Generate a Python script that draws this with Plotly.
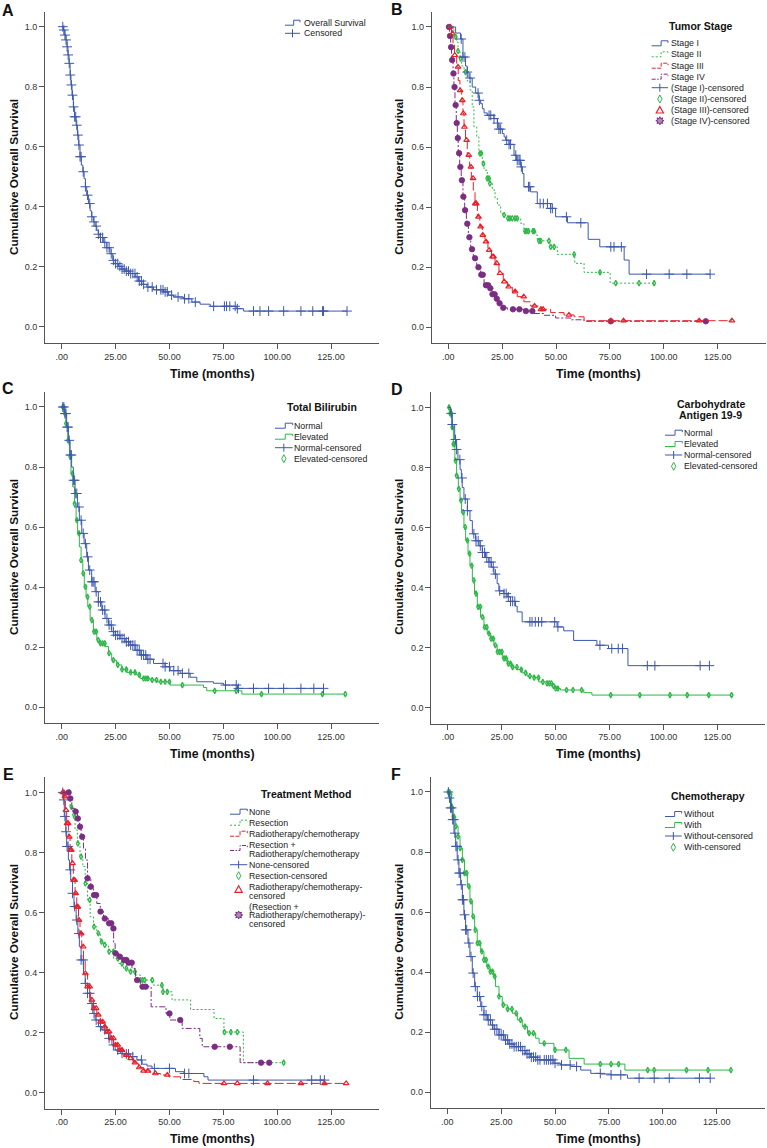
import math
import plotly.graph_objects as go

W, H = 767, 1148
FONT = "Liberation Sans, Arial, sans-serif"
BLUE = "#3E58AC"
GREEN = "#2EB848"
RED = "#E8202A"
PURPLE = "#7B2D83"

X_TICKS = [0, 25, 50, 75, 100, 125]
X_TICKTEXT = [".00", "25.00", "50.00", "75.00", "100.00", "125.00"]
Y_TICKS = [0.0, 0.2, 0.4, 0.6, 0.8, 1.0]
Y_TICKTEXT = ["0.0", "0.2", "0.4", "0.6", "0.8", "1.0"]

# ---------------- Panel A : overall survival ----------------
A_t = [0.8, 1.5, 2.0, 2.5, 2.9, 3.4, 3.9, 4.3, 4.8, 5.4, 6.0, 6.7, 7.3, 7.9, 8.5, 9.1, 9.8, 10.4, 11.0, 11.6,
       12.4, 13.2, 13.9, 14.7, 15.5, 16.3, 17.0, 17.8, 19.3, 20.9, 22.4, 23.7, 24.8, 26.3, 27.9, 29.4, 31.7,
       34.1, 35.6, 37.2, 39.5, 42.6, 47.2, 49.5, 51.9, 56.5, 60.4, 64.2, 68.9, 81.3, 84.4]
A_s = [0.989, 0.972, 0.956, 0.933, 0.906, 0.878, 0.839, 0.806, 0.772, 0.733, 0.70, 0.672, 0.639, 0.606, 0.567,
       0.539, 0.517, 0.494, 0.467, 0.439, 0.411, 0.387, 0.367, 0.35, 0.336, 0.322, 0.309, 0.298, 0.282, 0.264,
       0.244, 0.222, 0.211, 0.202, 0.193, 0.186, 0.178, 0.167, 0.153, 0.142, 0.133, 0.124, 0.117, 0.106, 0.10,
       0.094, 0.083, 0.076, 0.069, 0.061, 0.053]
A_end = 132.4
A_c = [0.5, 1, 1.5, 2, 2.5, 3, 3.5, 4, 4.5, 5, 5.5, 6, 6.5, 7, 7.5, 8, 8.5, 9, 10, 11, 12, 13, 14, 15, 16, 17, 18,
       19, 20, 21, 22, 23, 24, 25, 26, 27, 28, 29, 30, 31, 32, 33, 34, 35, 36, 37, 38, 40, 42, 44, 46, 47, 48, 49,
       51, 54, 57, 59, 62, 70.5, 75.5, 76.5, 78, 80.5, 81.5, 89, 92, 96, 103, 111, 116.5, 121, 121.5, 132.4]

# ---------------- Panel B : tumor stage ----------------
B_I_t = [3.4, 5.7, 6.8, 8.0, 8.8, 9.6, 11.1, 12.7, 14.2, 15.0, 15.8, 16.6, 18.1, 21.2, 22.8, 23.5, 25.1, 25.9,
         26.6, 28.2, 30.5, 31.7, 33.6, 34.4, 35.1, 38.2, 41.3, 47.5, 49.8, 55.3, 64.9, 70.3, 81.6, 83.9]
B_I_s = [0.98, 0.96, 0.90, 0.87, 0.85, 0.83, 0.80, 0.78, 0.756, 0.745, 0.728, 0.714, 0.706, 0.695, 0.68, 0.66,
         0.645, 0.634, 0.623, 0.609, 0.573, 0.556, 0.534, 0.512, 0.468, 0.451, 0.412, 0.396, 0.368, 0.348, 0.293,
         0.268, 0.224, 0.177]
B_I_end = 121.5
B_I_c = [6.0, 6.8, 7.7, 8.8, 10.1, 13.8, 14.4, 18.9, 19.7, 21.2, 22.8, 23.5, 24.3, 27.1, 28.2, 28.9, 31.3, 32.0,
         32.8, 33.3, 33.9, 37.2, 37.8, 42.6, 44.1, 46.0, 47.5, 48.3, 54.8, 61.5, 75.4, 76.9, 80.3, 92.0, 102.5,
         110.7, 121.5]

B_II_t = [2.6, 3.9, 4.5, 5.4, 6.2, 7.3, 8.8, 10.1, 11.1, 11.9, 13.2, 14.2, 15.8, 16.6, 18.1, 19.3, 20.4, 21.7,
          22.8, 24.3, 25.1, 27.7, 33.6, 35.1, 40.6, 41.3, 47.1, 50.6, 58.7, 63.0, 75.1]
B_II_s = [0.967, 0.95, 0.92, 0.895, 0.87, 0.85, 0.82, 0.79, 0.734, 0.667, 0.634, 0.579, 0.545, 0.523, 0.496,
          0.479, 0.457, 0.429, 0.407, 0.379, 0.374, 0.363, 0.346, 0.32, 0.307, 0.288, 0.268, 0.243, 0.213, 0.183,
          0.147]
B_II_end = 95.5
B_II_c = [3.4, 4.5, 5.7, 8.0, 14.7, 15.3, 16.3, 18.1, 18.9, 19.3, 25.9, 27.7, 28.6, 29.7, 31.0, 32.0, 35.6, 36.4,
          37.2, 39.3, 39.8, 42.1, 42.9, 46.7, 47.5, 49.1, 58.4, 70.4, 77.7, 88.5, 95.5]

B_III_t = [1.5, 2.2, 2.9, 3.9, 4.6, 5.4, 6.2, 6.8, 7.3, 8.0, 8.8, 9.9, 10.7, 11.6, 12.4, 13.5, 14.6, 15.8, 17.0,
           18.4, 20.0, 21.7, 23.5, 25.5, 27.4, 29.7, 32.0, 35.1, 38.2, 42.9, 47.5, 53.7, 58.4, 63.0]
B_III_s = [0.978, 0.945, 0.906, 0.867, 0.822, 0.789, 0.756, 0.712, 0.667, 0.623, 0.573, 0.534, 0.496, 0.457,
           0.412, 0.368, 0.335, 0.307, 0.285, 0.257, 0.235, 0.213, 0.18, 0.152, 0.135, 0.119, 0.102, 0.085, 0.071,
           0.06, 0.049, 0.041, 0.035, 0.022]
B_III_end = 131.6
B_III_c = [1.0, 2.0, 3.0, 4.5, 5.5, 6.5, 7.0, 7.5, 8.5, 9.5, 10.5, 11.5, 12.5, 13.0, 14.0, 15.0, 16.0, 17.5, 19.0,
           20.5, 21.0, 22.5, 24.0, 26.0, 28.0, 31.0, 35.0, 40.0, 43.0, 44.0, 56.0, 75.4, 81.3, 116.4, 131.6]

B_IV_t = [0.6, 1.1, 1.5, 2.2, 2.6, 3.1, 3.7, 4.2, 4.6, 5.3, 6.0, 6.8, 7.6, 8.4, 9.3, 10.4, 11.6, 13.2, 15.0, 16.6,
          18.9, 20.4, 22.0, 23.5, 25.1, 27.4, 35.1, 39.8, 44.4, 49.8, 56.8, 63.0]
B_IV_s = [0.97, 0.933, 0.89, 0.845, 0.80, 0.74, 0.68, 0.63, 0.58, 0.534, 0.49, 0.435, 0.39, 0.345, 0.30, 0.26,
          0.23, 0.20, 0.175, 0.14, 0.13, 0.11, 0.095, 0.08, 0.065, 0.06, 0.054, 0.046, 0.04, 0.031, 0.025, 0.02]
B_IV_end = 119.5
B_IV_c = [0.3, 0.8, 1.3, 1.8, 2.4, 2.9, 3.4, 3.9, 4.4, 5.0, 5.6, 6.3, 7.0, 7.8, 8.8, 9.8, 11.0, 12.4, 14.0, 15.3,
          16.0, 17.5, 18.5, 19.5, 20.5, 21.5, 22.5, 23.8, 25.5, 30.0, 33.0, 36.0, 39.0, 75.4, 119.5]

# ---------------- Panel C : total bilirubin ----------------
C_N_t = [1.5, 2.3, 3.1, 3.9, 4.6, 5.4, 6.2, 7.3, 8.2, 9.3, 10.4, 11.6, 12.4, 13.9, 15.5, 17.0, 18.6, 20.1, 21.7,
         23.2, 24.8, 27.1, 29.4, 31.7, 34.1, 36.4, 39.5, 42.6, 48.0, 50.3, 55.0, 59.6, 62.7, 70.4, 75.1, 81.6]
C_N_s = [0.978, 0.933, 0.889, 0.84, 0.80, 0.756, 0.712, 0.667, 0.623, 0.579, 0.545, 0.501, 0.457, 0.418, 0.385,
         0.351, 0.324, 0.296, 0.274, 0.252, 0.24, 0.229, 0.218, 0.207, 0.19, 0.174, 0.16, 0.146, 0.135, 0.122,
         0.113, 0.10, 0.085, 0.08, 0.074, 0.063]
C_N_end = 121.5
C_N_c = [0.5, 1, 1.5, 2, 2.5, 3, 3.5, 4, 4.5, 5.5, 6, 6.5, 7, 8, 9, 10, 11, 12, 13, 14, 14.5, 15, 16, 17, 18, 19,
         20, 21, 22, 23, 24, 25, 26, 27, 28, 29, 30, 31, 32, 33, 34, 35, 36, 37, 38, 39, 40, 41, 47, 48, 50, 52,
         54, 56, 59, 76, 81, 82, 89, 96, 103, 111, 117, 121.5]

C_E_t = [1.1, 1.9, 2.8, 3.6, 4.3, 5.1, 5.9, 6.7, 7.4, 8.2, 9.0, 9.8, 10.5, 11.3, 12.1, 13.2, 14.7, 16.3, 17.8,
         20.1, 21.7, 23.2, 25.5, 27.9, 30.2, 34.8, 36.4, 41.0, 44.1, 50.3, 65.8, 67.3, 83.6]
C_E_s = [0.978, 0.945, 0.889, 0.834, 0.778, 0.734, 0.678, 0.623, 0.579, 0.534, 0.49, 0.446, 0.401, 0.368, 0.335,
         0.29, 0.252, 0.224, 0.213, 0.202, 0.18, 0.157, 0.141, 0.126, 0.116, 0.108, 0.096, 0.091, 0.085, 0.074,
         0.066, 0.055, 0.044]
C_E_end = 131.6
C_E_c = [0.5, 1, 1.5, 2, 3, 4, 5, 6, 7, 8, 9, 10, 11, 12, 13, 14, 15, 16, 17, 18, 19, 20, 22, 24, 26, 28, 30, 32,
         34, 36, 38, 39, 40, 42, 44, 46, 48, 50, 56, 71, 81, 92.7, 121, 131.6]

# ---------------- Panel D : CA 19-9 ----------------
D_N_t = [1.2, 2.0, 3.1, 4.0, 4.6, 5.6, 6.2, 6.6, 7.4, 9.0, 10.2, 11.3, 12.8, 14.4, 15.9, 17.4, 19.0, 20.1, 21.3,
         22.8, 23.6, 25.9, 27.5, 29.0, 31.3, 32.1, 34.4, 50.6, 53.7, 58.3, 69.1, 74.5, 83.5]
D_N_s = [0.98, 0.943, 0.893, 0.86, 0.826, 0.793, 0.765, 0.733, 0.695, 0.656, 0.623, 0.579, 0.556, 0.539, 0.517,
         0.50, 0.485, 0.468, 0.445, 0.413, 0.389, 0.38, 0.369, 0.354, 0.338, 0.319, 0.286, 0.269, 0.256, 0.224,
         0.208, 0.197, 0.14]
D_N_end = 121.3
D_N_c = [1.5, 2.0, 3.5, 4.0, 5.5, 6.5, 8.0, 9.0, 12.0, 13.0, 14.0, 15.0, 16.0, 17.0, 18.0, 19.0, 20.0, 21.0, 22.0,
         24.0, 26.0, 27.0, 28.0, 29.0, 30.0, 31.0, 38.0, 39.0, 40.5, 42.0, 43.5, 49.5, 51.0, 70.5, 76.0, 79.0,
         81.0, 92.5, 96.0, 117.0, 121.3]

D_E_t = [0.9, 1.7, 2.5, 3.2, 4.0, 4.8, 5.6, 6.3, 7.4, 8.2, 9.3, 10.2, 11.3, 12.3, 13.6, 15.1, 16.7, 18.2, 19.8,
         21.3, 22.8, 25.2, 27.5, 29.8, 32.1, 34.4, 36.7, 39.8, 42.1, 46.0, 48.3, 49.8, 52.2, 63.0, 66.8]
D_E_s = [0.98, 0.934, 0.878, 0.823, 0.773, 0.729, 0.69, 0.651, 0.601, 0.557, 0.513, 0.473, 0.424, 0.38, 0.336,
         0.302, 0.268, 0.247, 0.23, 0.208, 0.186, 0.164, 0.147, 0.135, 0.127, 0.116, 0.105, 0.10, 0.086, 0.081,
         0.072, 0.064, 0.059, 0.05, 0.042]
D_E_end = 131.6
D_E_c = [0.5, 1, 1.5, 2, 2.5, 3, 3.5, 4, 5, 6, 7, 8, 9, 10, 11, 12, 13, 14, 15, 16, 17, 18, 19, 20, 21, 22, 23,
         24, 25, 26, 27, 28, 29, 30, 32, 34, 36, 38, 40, 42, 44, 46, 47, 48, 49, 50, 51, 55, 58, 62, 75.5, 89,
         103, 111, 121, 131.6]

# ---------------- Panel E : treatment method ----------------
E_N_t = [0.8, 1.2, 1.9, 2.3, 3.1, 3.6, 4.2, 5.0, 5.7, 6.7, 7.5, 8.2, 9.0, 10.1, 10.9, 12.0, 13.2, 14.4, 15.5,
         17.1, 18.6, 20.2, 21.7, 23.3, 24.8, 27.2, 29.5, 31.8, 34.9, 37.3, 39.6, 41.9, 52.8, 56.7, 66.0, 67.9]
E_N_s = [0.975, 0.92, 0.869, 0.82, 0.775, 0.742, 0.708, 0.664, 0.62, 0.575, 0.53, 0.486, 0.442, 0.397, 0.364,
         0.331, 0.297, 0.264, 0.242, 0.22, 0.209, 0.198, 0.181, 0.159, 0.142, 0.131, 0.129, 0.12, 0.109, 0.095,
         0.089, 0.081, 0.07, 0.064, 0.053, 0.042]
E_N_end = 121.9
E_N_c = [0.5, 1, 1.5, 2, 2.5, 3, 4, 5, 6, 7, 8, 9, 10, 11, 12, 13, 14, 15, 16, 18, 20, 22, 24, 26, 28, 30, 31,
         33, 37, 43, 50, 57, 59, 89, 116, 120, 121.9]

E_R_t = [3.9, 5.0, 6.2, 7.3, 8.5, 9.8, 10.9, 12.0, 13.2, 14.8, 16.3, 17.9, 19.4, 21.7, 24.1, 26.4, 28.7, 31.1,
         34.2, 36.5, 42.7, 47.0, 51.2, 59.8, 70.7, 75.3, 84.3]
E_R_s = [0.952, 0.919, 0.875, 0.83, 0.786, 0.753, 0.697, 0.642, 0.586, 0.553, 0.531, 0.503, 0.492, 0.47, 0.447,
         0.43, 0.414, 0.403, 0.392, 0.375, 0.358, 0.336, 0.309, 0.277, 0.247, 0.202, 0.10]
E_R_end = 103.0
E_R_c = [3.5, 4.5, 6, 7.5, 9, 11, 13, 15, 17, 18.5, 20, 22, 24, 26, 28, 30, 32, 34, 36.5, 37.5, 38.5, 42, 46.5,
         47, 49, 75.5, 78.5, 81.5, 103]

E_RC_t = [1.2, 1.7, 2.3, 3.1, 3.9, 4.7, 5.4, 6.2, 7.0, 7.8, 8.5, 9.3, 10.1, 10.9, 12.0, 13.2, 14.8, 16.3, 17.9,
          19.4, 21.0, 22.5, 24.1, 26.4, 28.7, 31.1, 33.4, 35.7, 38.0, 41.1, 45.8, 49.7, 55.1, 61.3, 63.7]
E_RC_s = [0.986, 0.941, 0.897, 0.852, 0.808, 0.764, 0.708, 0.664, 0.619, 0.575, 0.53, 0.486, 0.442, 0.397,
          0.353, 0.309, 0.281, 0.259, 0.236, 0.22, 0.203, 0.181, 0.159, 0.142, 0.125, 0.114, 0.10, 0.084, 0.073,
          0.064, 0.059, 0.053, 0.044, 0.037, 0.031]
E_RC_end = 132.0
E_RC_c = [0.5, 1, 1.5, 2, 2.5, 3, 3.5, 4, 4.5, 5, 5.5, 6, 6.5, 7, 7.5, 8, 9, 10, 11, 12, 13, 14, 15, 16, 17, 18,
          19, 20, 21, 22, 23, 24, 25, 26, 27, 28, 30, 32, 34, 36, 38, 40, 43.5, 49, 75.3, 81.5, 95.5, 111, 121.9,
          132.0]

E_RR_t = [3.9, 4.7, 6.2, 7.3, 8.2, 9.0, 10.1, 11.0, 12.0, 13.5, 14.8, 16.3, 17.9, 19.4, 21.7, 23.3, 24.1, 24.8,
          26.4, 28.0, 30.3, 32.6, 34.2, 36.5, 41.5, 48.4, 50.2, 55.9, 64.1, 65.2, 82.8]
E_RR_s = [0.98, 0.947, 0.936, 0.913, 0.886, 0.852, 0.814, 0.775, 0.714, 0.686, 0.658, 0.63, 0.603, 0.58, 0.564,
          0.547, 0.497, 0.464, 0.453, 0.442, 0.433, 0.414, 0.375, 0.353, 0.286, 0.264, 0.242, 0.214, 0.181, 0.153,
          0.10]
E_RR_end = 96.3
E_RR_c = [3.2, 4, 6.5, 7.5, 8.5, 9.5, 12, 13.5, 15, 16, 18, 20, 22, 23, 24, 25, 27, 29, 30, 31, 32.5, 35, 37.5,
          39, 50, 55, 71, 78, 92.5, 96.3]

# ---------------- Panel F : chemotherapy ----------------
F_W_t = [0.9, 1.5, 2.3, 3.1, 3.9, 4.6, 5.4, 6.2, 7.0, 7.7, 8.5, 9.6, 10.5, 11.6, 12.7, 13.9, 15.5, 17.0, 18.6,
         20.1, 21.7, 24.0, 26.3, 28.6, 31.0, 34.1, 36.4, 38.7, 41.8, 49.5, 52.6, 57.3, 61.9, 66.6, 71.2, 75.9, 83.6]
F_W_s = [0.98, 0.947, 0.908, 0.863, 0.819, 0.774, 0.73, 0.691, 0.641, 0.591, 0.541, 0.497, 0.452, 0.397, 0.352,
         0.319, 0.286, 0.258, 0.241, 0.224, 0.21, 0.191, 0.174, 0.161, 0.152, 0.139, 0.128, 0.117, 0.108, 0.097,
         0.091, 0.086, 0.074, 0.063, 0.061, 0.058, 0.047]
F_W_end = 122.0
F_W_c = [0.5, 1, 1.5, 2, 2.5, 3, 3.5, 4, 4.5, 5, 5.5, 6, 6.5, 7, 7.5, 8, 8.5, 9, 10, 11, 12, 13, 14, 15, 16, 17,
         18, 19, 20, 21, 22, 23, 24, 25, 26, 27, 28, 29, 30, 31, 32, 33, 34, 35, 36, 37, 38, 39, 40, 41, 42, 43,
         45, 46, 47, 48, 49, 50, 53, 57, 60, 71, 76, 80.5, 89, 96, 103, 117, 122.0]

F_H_t = [1.2, 2.0, 2.8, 3.9, 5.0, 5.9, 7.0, 8.0, 9.3, 10.5, 11.6, 12.7, 13.9, 15.5, 17.0, 18.3, 19.8, 21.4, 22.4,
         24.0, 25.5, 27.9, 30.2, 32.5, 34.8, 37.2, 41.0, 42.6, 49.5, 56.5, 63.5, 82.4]
F_H_s = [0.991, 0.952, 0.919, 0.886, 0.852, 0.813, 0.774, 0.73, 0.686, 0.636, 0.586, 0.541, 0.497, 0.469, 0.441,
         0.419, 0.402, 0.386, 0.352, 0.319, 0.291, 0.277, 0.263, 0.241, 0.219, 0.197, 0.18, 0.163, 0.141, 0.113,
         0.094, 0.074]
F_H_end = 131.6
F_H_c = [0.5, 1, 1.5, 2, 3, 4, 5, 6, 7, 8, 9, 10, 11, 12, 13, 14, 15, 16, 17, 18, 19, 20, 21, 22, 24, 26, 28, 30,
         32, 34, 36, 38, 40, 45, 50, 55, 71, 76, 79.5, 93, 96, 111, 121, 131.6]

# ---------------- layout geometry (pixels) ----------------
# pixel position of data point (0 months, survival 0) for each panel
PANEL_ORIGIN = [(61.7, 327.0), (448.3, 327.3), (61.7, 707.3), (448.0, 707.7), (61.7, 1092.7), (447.3, 1092.3)]
XS, YS = 2.155, 300.3
XR, YR = [-7.7, 147.3], [-0.053, 1.05]

fig = go.Figure()
shapes, annotations = [], []


def px(x):
    return x / W


def py(y):
    return 1 - y / H


def surv_at(times, surv, t):
    v = 1.0
    for ti, si in zip(times, surv):
        if ti <= t:
            v = si
    return v


MARKERS = {
    "cross": dict(symbol="cross-thin", size=7, line=dict(width=1)),
    "diamond": dict(symbol="diamond-tall-open", size=4, line=dict(width=1.3)),
    "triangle": dict(symbol="triangle-up-open", size=5, line=dict(width=1.2)),
    "gear": dict(symbol="circle", size=5.5, line=dict(width=0.8)),
}


def add_curve(panel, times, surv, end, cens, color, dash, mk):
    ax = "" if panel == 1 else str(panel)
    xs = [0] + list(times) + [end]
    ys = [1.0] + list(surv) + [surv[-1]]
    fig.add_trace(go.Scatter(x=xs, y=ys, mode="lines", line=dict(color=color, width=1, dash=dash, shape="hv"),
                             xaxis="x" + ax, yaxis="y" + ax, showlegend=False, hoverinfo="skip"))
    m = dict(MARKERS[mk])
    m["color"] = color
    m["line"] = dict(m["line"], color=color)
    fig.add_trace(go.Scatter(x=cens, y=[surv_at(times, surv, t) for t in cens], mode="markers", marker=m,
                             xaxis="x" + ax, yaxis="y" + ax, showlegend=False, hoverinfo="skip"))


add_curve(1, A_t, A_s, A_end, A_c, BLUE, "solid", "cross")

add_curve(2, B_IV_t, B_IV_s, B_IV_end, B_IV_c, PURPLE, "6px,2px,2px,2px", "gear")
add_curve(2, B_III_t, B_III_s, B_III_end, B_III_c, RED, "9px,3px", "triangle")
add_curve(2, B_II_t, B_II_s, B_II_end, B_II_c, GREEN, "2px,2px", "diamond")
add_curve(2, B_I_t, B_I_s, B_I_end, B_I_c, BLUE, "solid", "cross")

add_curve(3, C_E_t, C_E_s, C_E_end, C_E_c, GREEN, "solid", "diamond")
add_curve(3, C_N_t, C_N_s, C_N_end, C_N_c, BLUE, "solid", "cross")

add_curve(4, D_E_t, D_E_s, D_E_end, D_E_c, GREEN, "solid", "diamond")
add_curve(4, D_N_t, D_N_s, D_N_end, D_N_c, BLUE, "solid", "cross")

add_curve(5, E_N_t, E_N_s, E_N_end, E_N_c, BLUE, "solid", "cross")
add_curve(5, E_RC_t, E_RC_s, E_RC_end, E_RC_c, RED, "9px,3px", "triangle")
add_curve(5, E_R_t, E_R_s, E_R_end, E_R_c, GREEN, "2px,2px", "diamond")
add_curve(5, E_RR_t, E_RR_s, E_RR_end, E_RR_c, PURPLE, "6px,2px,2px,2px", "gear")

add_curve(6, F_H_t, F_H_s, F_H_end, F_H_c, GREEN, "solid", "diamond")
add_curve(6, F_W_t, F_W_s, F_W_end, F_W_c, BLUE, "solid", "cross")

# ---------------- axes ----------------
layout_axes = {}
for i, (x0, y0) in enumerate(PANEL_ORIGIN, start=1):
    ax = "" if i == 1 else str(i)
    xl, xr = x0 + XR[0] * XS, x0 + XR[1] * XS
    yb, yt = y0 - YR[0] * YS, y0 - YR[1] * YS
    common = dict(showline=True, linecolor="#555", linewidth=1, ticks="outside", ticklen=5, tickwidth=1,
                  tickcolor="#555", showgrid=False, zeroline=False, fixedrange=True,
                  tickfont=dict(family=FONT, size=9, color="#333"))
    layout_axes["xaxis" + ax] = dict(common, domain=[px(xl), px(xr)], range=XR, tickvals=X_TICKS,
                                     ticktext=X_TICKTEXT, anchor="y" + ax)
    layout_axes["yaxis" + ax] = dict(common, domain=[py(yb), py(yt)], range=YR, tickvals=Y_TICKS,
                                     ticktext=Y_TICKTEXT, anchor="x" + ax)


def text(x, y, s, size=8.8, bold=False, anchor="left", color="#222", angle=0):
    annotations.append(dict(x=px(x), y=py(y), xref="paper", yref="paper",
                            text="<b>" + s + "</b>" if bold else s, showarrow=False, xanchor=anchor,
                            yanchor="middle", textangle=angle, borderpad=0,
                            font=dict(family=FONT, size=size, color=color)))


def path(points, color, dash="solid", width=1, fill=None, close=False):
    d = "M " + " L ".join("%.5f,%.5f" % (px(x), py(y)) for x, y in points)
    if close:
        d += " Z"
    s = dict(type="path", xref="paper", yref="paper", path=d, line=dict(color=color, width=width, dash=dash))
    if fill:
        s["fillcolor"] = fill
    shapes.append(s)


def icon(kind, x0, x1, yc, color, dash="solid"):
    xm = (x0 + x1) / 2
    if kind == "line":
        xs = x0 + 0.58 * (x1 - x0)
        path([(x0, yc + 2.5), (xs, yc + 2.5), (xs, yc - 2.5), (x1, yc - 2.5), (x1, yc - 0.5)], color, dash)
    elif kind == "cross":
        path([(x0, yc), (x1, yc)], color)
        path([(xm, yc - 4), (xm, yc + 4)], color)
    elif kind == "diamond":
        path([(xm, yc - 4), (xm + 2.2, yc), (xm, yc + 4), (xm - 2.2, yc)], color, close=True)
    elif kind == "triangle":
        path([(xm, yc - 3.5), (xm + 3.6, yc + 3), (xm - 3.6, yc + 3)], color, width=1.2, close=True)
    elif kind == "gear":
        pts = []
        for k in range(16):
            r = 4.0 if k % 2 == 0 else 2.3
            a = math.pi * k / 8
            pts.append((xm + r * math.cos(a), yc + r * math.sin(a)))
        path(pts, color, fill="#B08AB6", close=True)


# legends: (icon kind, colour, dash, label lines, y of icon, y of each line)
def legend(x0, x1, xt, items):
    for kind, color, dash, lines, yi, ylines in items:
        icon(kind, x0, x1, yi, color, dash)
        for s, yy in zip(lines, ylines):
            text(xt, yy, s)


DOT, LDASH, DDOT = "2px,2px", "4px,1.5px", "4px,1.5px,1.5px,1.5px"

# Panel A
legend(285, 300, 302.7, [
    ("line", BLUE, "solid", ["Overall Survival"], 22.7, [22.7]),
    ("cross", BLUE, "solid", ["Censored"], 33.3, [33.3]),
])
# Panel B
text(700.7, 25.7, "Tumor Stage", size=10.5, bold=True, anchor="center", color="#111")
legend(651.7, 668, 670, [
    ("line", BLUE, "solid", ["Stage I"], 43.3, [43.3]),
    ("line", GREEN, DOT, ["Stage II"], 54.3, [54.3]),
    ("line", RED, LDASH, ["Stage III"], 65.7, [65.7]),
    ("line", PURPLE, DDOT, ["Stage IV"], 76.7, [76.7]),
    ("cross", BLUE, "solid", ["(Stage I)-censored"], 87.7, [87.7]),
    ("diamond", GREEN, "solid", ["(Stage II)-censored"], 99.0, [99.0]),
    ("triangle", RED, "solid", ["(Stage III)-censored"], 110.0, [110.0]),
    ("gear", PURPLE, "solid", ["(Stage IV)-censored"], 120.7, [120.7]),
])
# Panel C
text(321.7, 407.3, "Total Bilirubin", size=10.5, bold=True, anchor="center", color="#111")
legend(275, 292.7, 293.3, [
    ("line", BLUE, "solid", ["Normal"], 425.7, [425.7]),
    ("line", GREEN, "solid", ["Elevated"], 436.7, [436.7]),
    ("cross", BLUE, "solid", ["Normal-censored"], 447.7, [447.7]),
    ("diamond", GREEN, "solid", ["Elevated-censored"], 458.7, [458.7]),
])
# Panel D
text(710.7, 404.3, "Carbohydrate", size=10.5, bold=True, anchor="center", color="#111")
text(710.7, 415.0, "Antigen 19-9", size=10.5, bold=True, anchor="center", color="#111")
legend(665, 682.3, 683.3, [
    ("line", BLUE, "solid", ["Normal"], 432.7, [432.7]),
    ("line", GREEN, "solid", ["Elevated"], 444.0, [444.0]),
    ("cross", BLUE, "solid", ["Normal-censored"], 455.0, [455.0]),
    ("diamond", GREEN, "solid", ["Elevated-censored"], 466.3, [466.3]),
])
# Panel E
text(306, 793.7, "Treatment Method", size=10.5, bold=True, anchor="center", color="#111")
legend(230, 247.3, 248.3, [
    ("line", BLUE, "solid", ["None"], 811.7, [811.7]),
    ("line", GREEN, DOT, ["Resection"], 822.7, [822.7]),
    ("line", RED, LDASH, ["Radiotherapy/chemotherapy"], 833.7, [833.7]),
    ("line", PURPLE, DDOT, ["Resection +", "Radiotherapy/chemotherapy"], 848.0, [844.7, 853.7]),
    ("cross", BLUE, "solid", ["None-censored"], 864.7, [864.7]),
    ("diamond", GREEN, "solid", ["Resection-censored"], 875.7, [875.7]),
    ("triangle", RED, "solid", ["Radiotherapy/chemotherapy-", "censored"], 889.3, [886.7, 895.7]),
    ("gear", PURPLE, "solid", ["(Resection +", "Radiotherapy/chemotherapy)-", "censored"], 915.0,
     [906.7, 915.3, 924.0]),
])
# Panel F
text(708, 796, "Chemotherapy", size=10.5, bold=True, anchor="center", color="#111")
legend(665, 681.7, 683.3, [
    ("line", BLUE, "solid", ["Without"], 814.0, [814.0]),
    ("line", GREEN, "solid", ["With"], 825.0, [825.0]),
    ("cross", BLUE, "solid", ["Without-censored"], 836.0, [836.0]),
    ("diamond", GREEN, "solid", ["With-censored"], 847.3, [847.3]),
])

# axis titles and panel letters
TIME_POS = [(212.5, 374.0), (598.3, 374.0), (212.3, 754.0), (598.3, 754.0), (212.3, 1139.3), (598.3, 1139.3)]
YTITLE_POS = [(13.3, 176.7), (399.0, 176.7), (13.3, 556.7), (399.0, 556.7), (13.3, 941.7), (399.0, 941.7)]
LETTERS = ["A", "B", "C", "D", "E", "F"]
LETTER_POS = [(8.3, 10.0), (397.3, 9.5), (8.3, 388.3), (397.3, 389.0), (8.3, 775.0), (396.0, 775.0)]
for (tx, ty), (yx, yy), L, (lx, ly) in zip(TIME_POS, YTITLE_POS, LETTERS, LETTER_POS):
    text(tx, ty, "Time (months)", size=12.3, bold=True, anchor="center", color="#111")
    text(yx, yy, "Cumulative Overall Survival", size=11.8, bold=True, anchor="center", color="#111", angle=-90)
    text(lx, ly, L, size=16, bold=True, anchor="center", color="#111")

fig.update_layout(width=W, height=H, margin=dict(l=0, r=0, t=0, b=0), paper_bgcolor="white",
                  plot_bgcolor="white", showlegend=False, shapes=shapes, annotations=annotations,
                  font=dict(family=FONT), **layout_axes)
fig.write_html("out.html", config={"displayModeBar": False},
               post_script="document.body.style.margin='0px';document.body.style.overflow='hidden';")
